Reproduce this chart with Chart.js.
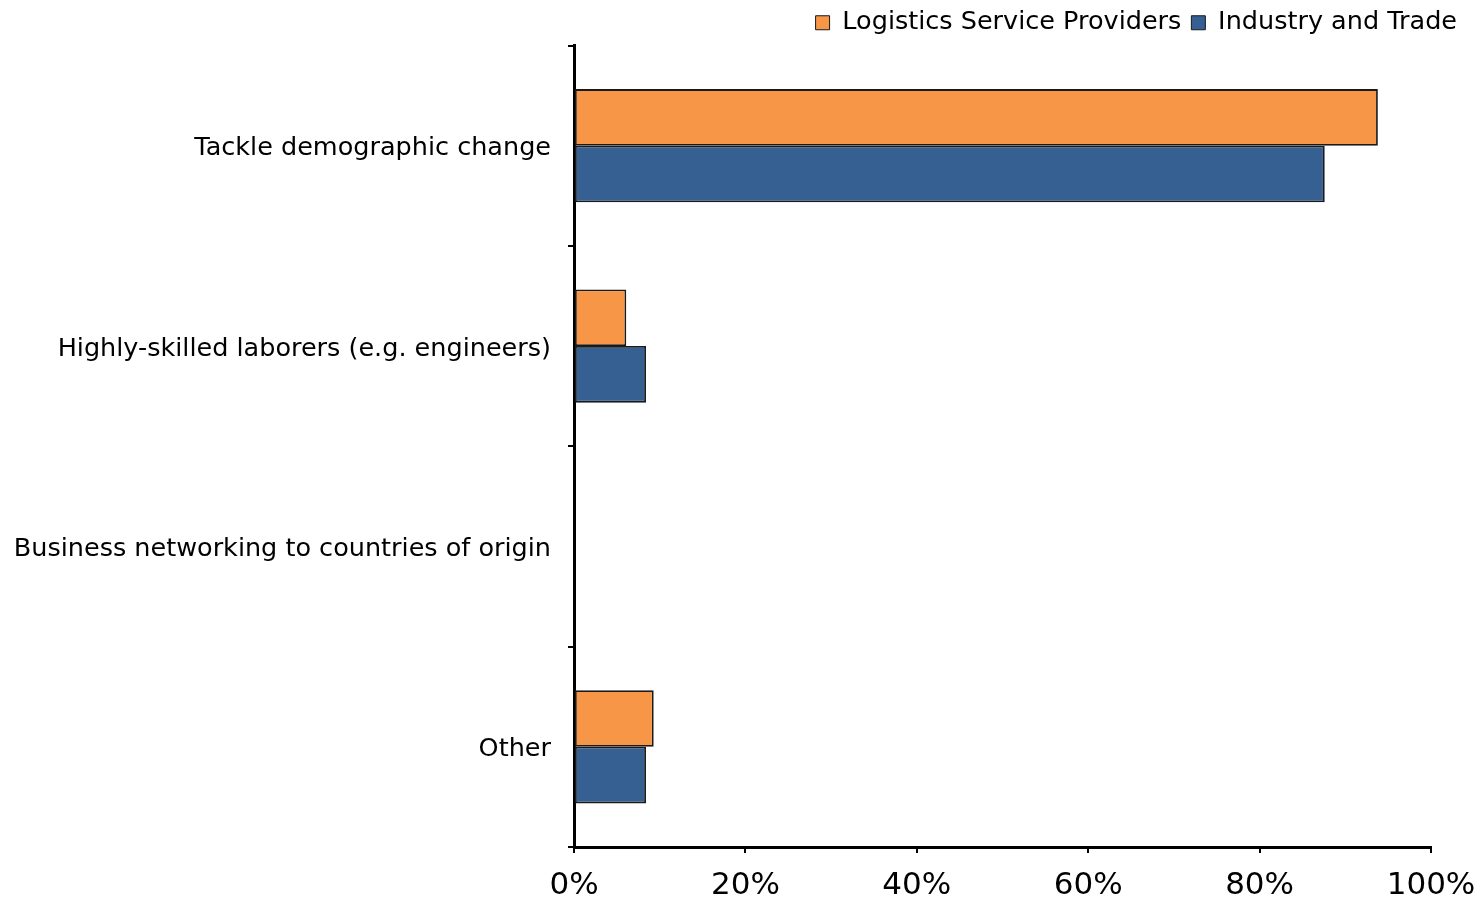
<!DOCTYPE html>
<html>
<head>
<meta charset="utf-8">
<title>Reasons for employing migrants</title>
<script src="https://cdn.jsdelivr.net/npm/chart.js@4"></script>
<style>
    html, body { margin: 0; padding: 0; background: #fff; }
    #wrap { width: 1483px; height: 904px; position: relative; }
</style>
</head>
<body>
<div id="wrap"><canvas id="chart"></canvas></div>
<script>
// ============================================
// DATA
// ============================================
const categories = [
    'Tackle demographic change',
    'Highly-skilled laborers (e.g. engineers)',
    'Business networking to countries of origin',
    'Other'
];
const seriesNames = ['Logistics Service Providers', 'Industry and Trade'];
const logisticsValues = [93.8, 6.1, 0, 9.3];
const industryValues = [87.6, 8.4, 0, 8.4];
const xTicks = [0, 20, 40, 60, 80, 100];

// ============================================
// CHART
// ============================================
Chart.defaults.color = '#000';
Chart.defaults.font.family = '"DejaVu Sans", Verdana, sans-serif';

const barStyle = {
    borderColor: '#1a1a1a',
    borderWidth: 1.8,
    borderSkipped: false,
    barPercentage: 1.0,
    categoryPercentage: 0.565
};

new Chart(document.getElementById('chart'), {
    type: 'bar',
    data: {
        labels: categories,
        datasets: [
            { label: seriesNames[0], data: logisticsValues, backgroundColor: '#F79646', ...barStyle },
            { label: seriesNames[1], data: industryValues, backgroundColor: '#366092', ...barStyle }
        ]
    },
    options: {
        indexAxis: 'y',
        responsive: true,
        maintainAspectRatio: false,
        animation: false,
        layout: { padding: { left: 0, right: 16, top: 0, bottom: 0 } },
        plugins: {
            tooltip: { enabled: false },
            legend: {
                position: 'top',
                align: 'end',
                labels: {
                    boxWidth: 14,
                    boxHeight: 14,
                    padding: 10,
                    font: { size: 25.5 },
                    generateLabels: (chart) => chart.data.datasets.map((ds, i) => ({
                        text: ds.label,
                        fillStyle: ds.backgroundColor,
                        strokeStyle: '#1a1a1a',
                        lineWidth: 1,
                        datasetIndex: i
                    }))
                }
            }
        },
        scales: {
            x: {
                min: 0,
                max: 100,
                afterBuildTicks: (scale) => {
                    scale.ticks = xTicks.map(v => ({ value: v }));
                },
                afterFit: (scale) => {
                    scale.paddingRight = 52;
                    scale.height = 57;
                },
                ticks: {
                    callback: (v) => v + '%',
                    padding: 14,
                    maxRotation: 0,
                    font: { size: 31 }
                },
                grid: {
                    drawOnChartArea: false,
                    drawTicks: true,
                    tickLength: 6,
                    color: '#000',
                    lineWidth: 2
                },
                border: { display: true, color: '#000', width: 3 }
            },
            y: {
                afterFit: (scale) => {
                    scale.width = 574;
                    scale.paddingTop = 0;
                    scale.paddingBottom = 0;
                },
                ticks: {
                    padding: 17,
                    labelOffset: 3,
                    font: { size: 25.5 }
                },
                grid: {
                    offset: true,
                    drawOnChartArea: false,
                    drawTicks: true,
                    tickLength: 6,
                    color: '#000',
                    lineWidth: 2
                },
                border: { display: true, color: '#000', width: 3 }
            }
        }
    }
});
</script>
</body>
</html>
